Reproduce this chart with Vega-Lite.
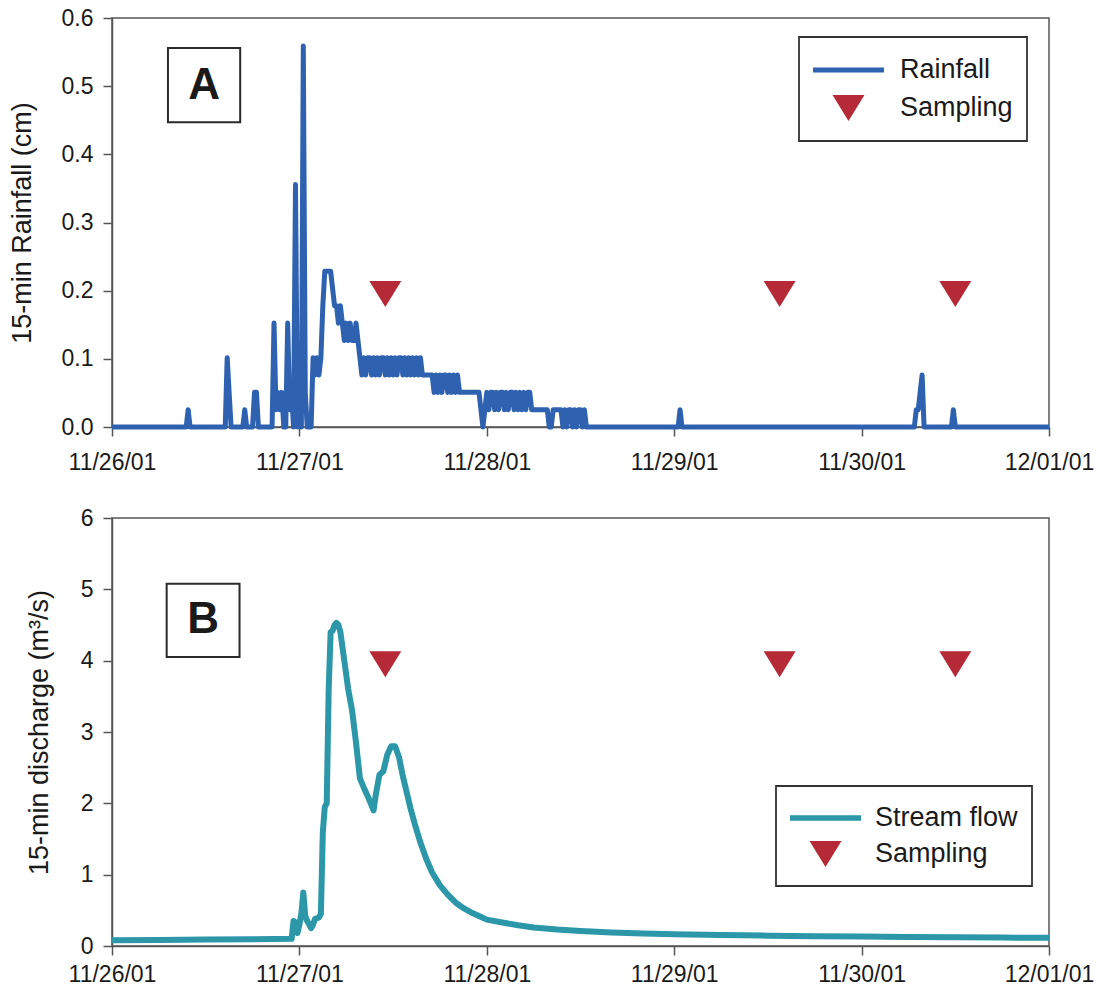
{
  "$schema": "https://vega.github.io/schema/vega-lite/v6.json",
  "padding": {"left": 7, "top": 6, "right": 0, "bottom": 2},
  "background": "white",
  "spacing": 31,
  "config": {
    "font": "Liberation Sans",
    "view": {"stroke": "#555", "strokeWidth": 1.5},
    "axis": {
      "labelFont": "Liberation Sans", "labelFontSize": 23, "labelColor": "#1a1a1a",
      "titleFont": "Liberation Sans", "titleFontSize": 27, "titleFontWeight": "normal", "titleColor": "#1a1a1a",
      "domainColor": "#555", "domainWidth": 1.5, "tickColor": "#555", "tickWidth": 1.5, "tickSize": 9,
      "grid": false, "labelPadding": 10, "labelFlush": false
    }
  },
  "datasets": {
    "rain": [
      {"time": "2001-11-26T00:00", "rain_cm": 0},
      {"time": "2001-11-26T09:30", "rain_cm": 0},
      {"time": "2001-11-26T09:45", "rain_cm": 0.0254},
      {"time": "2001-11-26T10:00", "rain_cm": 0},
      {"time": "2001-11-26T14:30", "rain_cm": 0},
      {"time": "2001-11-26T14:45", "rain_cm": 0.1016},
      {"time": "2001-11-26T15:00", "rain_cm": 0.0508},
      {"time": "2001-11-26T15:15", "rain_cm": 0},
      {"time": "2001-11-26T16:45", "rain_cm": 0},
      {"time": "2001-11-26T17:00", "rain_cm": 0.0254},
      {"time": "2001-11-26T17:15", "rain_cm": 0},
      {"time": "2001-11-26T18:00", "rain_cm": 0},
      {"time": "2001-11-26T18:15", "rain_cm": 0.0508},
      {"time": "2001-11-26T18:30", "rain_cm": 0.0508},
      {"time": "2001-11-26T18:45", "rain_cm": 0},
      {"time": "2001-11-26T20:30", "rain_cm": 0},
      {"time": "2001-11-26T20:45", "rain_cm": 0.1524},
      {"time": "2001-11-26T21:00", "rain_cm": 0.0254},
      {"time": "2001-11-26T21:15", "rain_cm": 0.0508},
      {"time": "2001-11-26T21:30", "rain_cm": 0.0254},
      {"time": "2001-11-26T21:45", "rain_cm": 0.0508},
      {"time": "2001-11-26T22:00", "rain_cm": 0},
      {"time": "2001-11-26T22:15", "rain_cm": 0},
      {"time": "2001-11-26T22:30", "rain_cm": 0.1524},
      {"time": "2001-11-26T22:45", "rain_cm": 0.0254},
      {"time": "2001-11-26T23:00", "rain_cm": 0.0508},
      {"time": "2001-11-26T23:15", "rain_cm": 0},
      {"time": "2001-11-26T23:30", "rain_cm": 0.3556},
      {"time": "2001-11-26T23:45", "rain_cm": 0},
      {"time": "2001-11-27T00:00", "rain_cm": 0.0254},
      {"time": "2001-11-27T00:15", "rain_cm": 0},
      {"time": "2001-11-27T00:30", "rain_cm": 0.5588},
      {"time": "2001-11-27T00:45", "rain_cm": 0.0508},
      {"time": "2001-11-27T01:00", "rain_cm": 0},
      {"time": "2001-11-27T01:15", "rain_cm": 0},
      {"time": "2001-11-27T01:30", "rain_cm": 0},
      {"time": "2001-11-27T01:45", "rain_cm": 0.1016},
      {"time": "2001-11-27T02:00", "rain_cm": 0.0762},
      {"time": "2001-11-27T02:15", "rain_cm": 0.1016},
      {"time": "2001-11-27T02:30", "rain_cm": 0.0762},
      {"time": "2001-11-27T02:45", "rain_cm": 0.1016},
      {"time": "2001-11-27T03:00", "rain_cm": 0.1778},
      {"time": "2001-11-27T03:15", "rain_cm": 0.2286},
      {"time": "2001-11-27T03:30", "rain_cm": 0.2286},
      {"time": "2001-11-27T03:45", "rain_cm": 0.2286},
      {"time": "2001-11-27T04:00", "rain_cm": 0.2286},
      {"time": "2001-11-27T04:15", "rain_cm": 0.2032},
      {"time": "2001-11-27T04:30", "rain_cm": 0.1778},
      {"time": "2001-11-27T04:45", "rain_cm": 0.1778},
      {"time": "2001-11-27T05:00", "rain_cm": 0.1524},
      {"time": "2001-11-27T05:15", "rain_cm": 0.1778},
      {"time": "2001-11-27T05:30", "rain_cm": 0.1524},
      {"time": "2001-11-27T05:45", "rain_cm": 0.127},
      {"time": "2001-11-27T06:00", "rain_cm": 0.1524},
      {"time": "2001-11-27T06:15", "rain_cm": 0.127},
      {"time": "2001-11-27T06:30", "rain_cm": 0.1524},
      {"time": "2001-11-27T06:45", "rain_cm": 0.127},
      {"time": "2001-11-27T07:00", "rain_cm": 0.127},
      {"time": "2001-11-27T07:15", "rain_cm": 0.1524},
      {"time": "2001-11-27T07:30", "rain_cm": 0.127},
      {"time": "2001-11-27T07:45", "rain_cm": 0.1016},
      {"time": "2001-11-27T08:00", "rain_cm": 0.0762},
      {"time": "2001-11-27T08:15", "rain_cm": 0.1016},
      {"time": "2001-11-27T08:30", "rain_cm": 0.0762},
      {"time": "2001-11-27T08:45", "rain_cm": 0.1016},
      {"time": "2001-11-27T09:00", "rain_cm": 0.1016},
      {"time": "2001-11-27T09:15", "rain_cm": 0.0762},
      {"time": "2001-11-27T09:30", "rain_cm": 0.1016},
      {"time": "2001-11-27T09:45", "rain_cm": 0.0762},
      {"time": "2001-11-27T10:00", "rain_cm": 0.1016},
      {"time": "2001-11-27T10:15", "rain_cm": 0.0762},
      {"time": "2001-11-27T10:30", "rain_cm": 0.1016},
      {"time": "2001-11-27T10:45", "rain_cm": 0.1016},
      {"time": "2001-11-27T11:00", "rain_cm": 0.0762},
      {"time": "2001-11-27T11:15", "rain_cm": 0.1016},
      {"time": "2001-11-27T11:30", "rain_cm": 0.0762},
      {"time": "2001-11-27T11:45", "rain_cm": 0.1016},
      {"time": "2001-11-27T12:00", "rain_cm": 0.0762},
      {"time": "2001-11-27T12:15", "rain_cm": 0.1016},
      {"time": "2001-11-27T12:30", "rain_cm": 0.0762},
      {"time": "2001-11-27T12:45", "rain_cm": 0.1016},
      {"time": "2001-11-27T13:00", "rain_cm": 0.1016},
      {"time": "2001-11-27T13:15", "rain_cm": 0.0762},
      {"time": "2001-11-27T13:30", "rain_cm": 0.1016},
      {"time": "2001-11-27T13:45", "rain_cm": 0.0762},
      {"time": "2001-11-27T14:00", "rain_cm": 0.1016},
      {"time": "2001-11-27T14:15", "rain_cm": 0.0762},
      {"time": "2001-11-27T14:30", "rain_cm": 0.1016},
      {"time": "2001-11-27T14:45", "rain_cm": 0.0762},
      {"time": "2001-11-27T15:00", "rain_cm": 0.1016},
      {"time": "2001-11-27T15:15", "rain_cm": 0.0762},
      {"time": "2001-11-27T15:30", "rain_cm": 0.1016},
      {"time": "2001-11-27T15:45", "rain_cm": 0.0762},
      {"time": "2001-11-27T16:00", "rain_cm": 0.0762},
      {"time": "2001-11-27T16:15", "rain_cm": 0.0762},
      {"time": "2001-11-27T16:30", "rain_cm": 0.0762},
      {"time": "2001-11-27T16:45", "rain_cm": 0.0762},
      {"time": "2001-11-27T17:00", "rain_cm": 0.0762},
      {"time": "2001-11-27T17:15", "rain_cm": 0.0508},
      {"time": "2001-11-27T17:30", "rain_cm": 0.0762},
      {"time": "2001-11-27T17:45", "rain_cm": 0.0508},
      {"time": "2001-11-27T18:00", "rain_cm": 0.0762},
      {"time": "2001-11-27T18:15", "rain_cm": 0.0508},
      {"time": "2001-11-27T18:30", "rain_cm": 0.0762},
      {"time": "2001-11-27T18:45", "rain_cm": 0.0762},
      {"time": "2001-11-27T19:00", "rain_cm": 0.0508},
      {"time": "2001-11-27T19:15", "rain_cm": 0.0762},
      {"time": "2001-11-27T19:30", "rain_cm": 0.0508},
      {"time": "2001-11-27T19:45", "rain_cm": 0.0762},
      {"time": "2001-11-27T20:00", "rain_cm": 0.0508},
      {"time": "2001-11-27T20:15", "rain_cm": 0.0762},
      {"time": "2001-11-27T20:30", "rain_cm": 0.0508},
      {"time": "2001-11-27T20:45", "rain_cm": 0.0508},
      {"time": "2001-11-27T23:00", "rain_cm": 0.0508},
      {"time": "2001-11-27T23:15", "rain_cm": 0.0254},
      {"time": "2001-11-27T23:30", "rain_cm": 0},
      {"time": "2001-11-27T23:45", "rain_cm": 0.0254},
      {"time": "2001-11-28T00:00", "rain_cm": 0.0508},
      {"time": "2001-11-28T00:15", "rain_cm": 0.0254},
      {"time": "2001-11-28T00:30", "rain_cm": 0.0508},
      {"time": "2001-11-28T00:45", "rain_cm": 0.0508},
      {"time": "2001-11-28T01:00", "rain_cm": 0.0254},
      {"time": "2001-11-28T01:15", "rain_cm": 0.0508},
      {"time": "2001-11-28T01:30", "rain_cm": 0.0254},
      {"time": "2001-11-28T01:45", "rain_cm": 0.0508},
      {"time": "2001-11-28T02:00", "rain_cm": 0.0508},
      {"time": "2001-11-28T02:15", "rain_cm": 0.0254},
      {"time": "2001-11-28T02:30", "rain_cm": 0.0508},
      {"time": "2001-11-28T02:45", "rain_cm": 0.0254},
      {"time": "2001-11-28T03:00", "rain_cm": 0.0508},
      {"time": "2001-11-28T03:15", "rain_cm": 0.0508},
      {"time": "2001-11-28T03:30", "rain_cm": 0.0254},
      {"time": "2001-11-28T03:45", "rain_cm": 0.0508},
      {"time": "2001-11-28T04:00", "rain_cm": 0.0254},
      {"time": "2001-11-28T04:15", "rain_cm": 0.0508},
      {"time": "2001-11-28T04:30", "rain_cm": 0.0254},
      {"time": "2001-11-28T04:45", "rain_cm": 0.0508},
      {"time": "2001-11-28T05:00", "rain_cm": 0.0254},
      {"time": "2001-11-28T05:15", "rain_cm": 0.0508},
      {"time": "2001-11-28T05:30", "rain_cm": 0.0508},
      {"time": "2001-11-28T05:45", "rain_cm": 0.0254},
      {"time": "2001-11-28T07:45", "rain_cm": 0.0254},
      {"time": "2001-11-28T08:00", "rain_cm": 0},
      {"time": "2001-11-28T08:15", "rain_cm": 0},
      {"time": "2001-11-28T08:30", "rain_cm": 0.0254},
      {"time": "2001-11-28T09:30", "rain_cm": 0.0254},
      {"time": "2001-11-28T09:45", "rain_cm": 0},
      {"time": "2001-11-28T10:00", "rain_cm": 0.0254},
      {"time": "2001-11-28T10:15", "rain_cm": 0},
      {"time": "2001-11-28T10:30", "rain_cm": 0.0254},
      {"time": "2001-11-28T10:45", "rain_cm": 0.0254},
      {"time": "2001-11-28T11:00", "rain_cm": 0},
      {"time": "2001-11-28T11:15", "rain_cm": 0.0254},
      {"time": "2001-11-28T11:30", "rain_cm": 0},
      {"time": "2001-11-28T11:45", "rain_cm": 0.0254},
      {"time": "2001-11-28T12:00", "rain_cm": 0.0254},
      {"time": "2001-11-28T12:15", "rain_cm": 0},
      {"time": "2001-11-28T12:30", "rain_cm": 0.0254},
      {"time": "2001-11-28T12:45", "rain_cm": 0},
      {"time": "2001-11-29T00:30", "rain_cm": 0},
      {"time": "2001-11-29T00:45", "rain_cm": 0.0254},
      {"time": "2001-11-29T01:00", "rain_cm": 0},
      {"time": "2001-11-30T06:45", "rain_cm": 0},
      {"time": "2001-11-30T07:00", "rain_cm": 0.0254},
      {"time": "2001-11-30T07:15", "rain_cm": 0.0254},
      {"time": "2001-11-30T07:30", "rain_cm": 0.0508},
      {"time": "2001-11-30T07:45", "rain_cm": 0.0762},
      {"time": "2001-11-30T08:00", "rain_cm": 0},
      {"time": "2001-11-30T11:30", "rain_cm": 0},
      {"time": "2001-11-30T11:45", "rain_cm": 0.0254},
      {"time": "2001-11-30T12:00", "rain_cm": 0},
      {"time": "2001-12-01T00:00", "rain_cm": 0}
    ],
    "flow": [
      {"time": "2001-11-26T00:00", "flow_m3s": 0.08},
      {"time": "2001-11-26T06:00", "flow_m3s": 0.085},
      {"time": "2001-11-26T12:00", "flow_m3s": 0.09},
      {"time": "2001-11-26T18:00", "flow_m3s": 0.095},
      {"time": "2001-11-26T23:00", "flow_m3s": 0.1},
      {"time": "2001-11-26T23:15", "flow_m3s": 0.35},
      {"time": "2001-11-26T23:30", "flow_m3s": 0.33},
      {"time": "2001-11-26T23:45", "flow_m3s": 0.18},
      {"time": "2001-11-27T00:00", "flow_m3s": 0.3},
      {"time": "2001-11-27T00:15", "flow_m3s": 0.45},
      {"time": "2001-11-27T00:30", "flow_m3s": 0.75},
      {"time": "2001-11-27T00:45", "flow_m3s": 0.42},
      {"time": "2001-11-27T01:00", "flow_m3s": 0.35},
      {"time": "2001-11-27T01:30", "flow_m3s": 0.25},
      {"time": "2001-11-27T01:45", "flow_m3s": 0.3},
      {"time": "2001-11-27T02:00", "flow_m3s": 0.38},
      {"time": "2001-11-27T02:30", "flow_m3s": 0.4},
      {"time": "2001-11-27T02:45", "flow_m3s": 0.45},
      {"time": "2001-11-27T03:00", "flow_m3s": 1.6},
      {"time": "2001-11-27T03:15", "flow_m3s": 1.95},
      {"time": "2001-11-27T03:30", "flow_m3s": 2.0},
      {"time": "2001-11-27T03:45", "flow_m3s": 3.6},
      {"time": "2001-11-27T04:00", "flow_m3s": 4.4},
      {"time": "2001-11-27T04:15", "flow_m3s": 4.42},
      {"time": "2001-11-27T04:30", "flow_m3s": 4.5},
      {"time": "2001-11-27T04:45", "flow_m3s": 4.53},
      {"time": "2001-11-27T05:00", "flow_m3s": 4.5},
      {"time": "2001-11-27T05:15", "flow_m3s": 4.4},
      {"time": "2001-11-27T05:45", "flow_m3s": 4.0},
      {"time": "2001-11-27T06:15", "flow_m3s": 3.6},
      {"time": "2001-11-27T06:45", "flow_m3s": 3.3},
      {"time": "2001-11-27T07:15", "flow_m3s": 2.85},
      {"time": "2001-11-27T07:45", "flow_m3s": 2.35},
      {"time": "2001-11-27T08:15", "flow_m3s": 2.22},
      {"time": "2001-11-27T08:45", "flow_m3s": 2.1},
      {"time": "2001-11-27T09:15", "flow_m3s": 1.97},
      {"time": "2001-11-27T09:30", "flow_m3s": 1.9},
      {"time": "2001-11-27T09:45", "flow_m3s": 2.1},
      {"time": "2001-11-27T10:15", "flow_m3s": 2.4},
      {"time": "2001-11-27T10:45", "flow_m3s": 2.45},
      {"time": "2001-11-27T11:15", "flow_m3s": 2.68},
      {"time": "2001-11-27T11:45", "flow_m3s": 2.8},
      {"time": "2001-11-27T12:15", "flow_m3s": 2.8},
      {"time": "2001-11-27T12:45", "flow_m3s": 2.65},
      {"time": "2001-11-27T13:15", "flow_m3s": 2.38},
      {"time": "2001-11-27T13:45", "flow_m3s": 2.15},
      {"time": "2001-11-27T14:15", "flow_m3s": 1.92},
      {"time": "2001-11-27T14:45", "flow_m3s": 1.72},
      {"time": "2001-11-27T15:30", "flow_m3s": 1.45},
      {"time": "2001-11-27T16:15", "flow_m3s": 1.22},
      {"time": "2001-11-27T17:00", "flow_m3s": 1.03},
      {"time": "2001-11-27T18:00", "flow_m3s": 0.85},
      {"time": "2001-11-27T19:00", "flow_m3s": 0.72},
      {"time": "2001-11-27T20:00", "flow_m3s": 0.61},
      {"time": "2001-11-27T21:00", "flow_m3s": 0.53},
      {"time": "2001-11-27T22:00", "flow_m3s": 0.47},
      {"time": "2001-11-27T23:00", "flow_m3s": 0.42},
      {"time": "2001-11-28T00:00", "flow_m3s": 0.37},
      {"time": "2001-11-28T02:00", "flow_m3s": 0.33},
      {"time": "2001-11-28T04:00", "flow_m3s": 0.29},
      {"time": "2001-11-28T06:00", "flow_m3s": 0.26},
      {"time": "2001-11-28T09:00", "flow_m3s": 0.23},
      {"time": "2001-11-28T12:00", "flow_m3s": 0.21},
      {"time": "2001-11-28T16:00", "flow_m3s": 0.19},
      {"time": "2001-11-28T20:00", "flow_m3s": 0.175},
      {"time": "2001-11-29T00:00", "flow_m3s": 0.165},
      {"time": "2001-11-29T06:00", "flow_m3s": 0.155},
      {"time": "2001-11-29T12:00", "flow_m3s": 0.145},
      {"time": "2001-11-29T18:00", "flow_m3s": 0.138},
      {"time": "2001-11-30T00:00", "flow_m3s": 0.132},
      {"time": "2001-11-30T06:00", "flow_m3s": 0.127},
      {"time": "2001-11-30T12:00", "flow_m3s": 0.122},
      {"time": "2001-11-30T18:00", "flow_m3s": 0.118},
      {"time": "2001-12-01T00:00", "flow_m3s": 0.115}
    ],
    "sampling": [
      {"time": "2001-11-27T11:00", "series": "Sampling"},
      {"time": "2001-11-29T13:30", "series": "Sampling"},
      {"time": "2001-11-30T12:00", "series": "Sampling"}
    ]
  },
  "resolve": {"scale": {"color": "independent", "shape": "independent"}},
  "vconcat": [
    {
      "width": 937,
      "height": 409,
      "layer": [
        {
          "data": {"values": [{"panel": "A"}]},
          "mark": {"type": "rect", "fill": "white", "stroke": "#2a2a2a", "strokeWidth": 2},
          "encoding": {
            "x": {"datum": {"year": 2001, "month": 11, "date": 26, "hours": 7, "minutes": 10}, "type": "temporal"},
            "x2": {"datum": {"year": 2001, "month": 11, "date": 26, "hours": 16, "minutes": 25}},
            "y": {"datum": 0.556, "type": "quantitative"},
            "y2": {"datum": 0.447}
          }
        },
        {
          "data": {"values": [{"panel": "A"}]},
          "mark": {"type": "text", "font": "Liberation Sans", "fontWeight": "bold", "fontSize": 44, "color": "#1a1a1a", "align": "center", "baseline": "middle"},
          "encoding": {
            "x": {"datum": {"year": 2001, "month": 11, "date": 26, "hours": 11, "minutes": 48}, "type": "temporal"},
            "y": {"datum": 0.5, "type": "quantitative"},
            "text": {"field": "panel"}
          }
        },
        {
          "data": {"name": "rain"},
          "mark": {"type": "line", "color": "#2e62b0", "strokeWidth": 5, "strokeJoin": "round"},
          "encoding": {
            "x": {
              "field": "time", "type": "temporal",
              "scale": {"domain": [{"year": 2001, "month": 11, "date": 26}, {"year": 2001, "month": 12, "date": 1}]},
              "axis": {
                "title": null, "format": "%m/%d/%y", "labelPadding": 15,
                "values": [
                  {"year": 2001, "month": 11, "date": 26}, {"year": 2001, "month": 11, "date": 27},
                  {"year": 2001, "month": 11, "date": 28}, {"year": 2001, "month": 11, "date": 29},
                  {"year": 2001, "month": 11, "date": 30}, {"year": 2001, "month": 12, "date": 1}
                ]
              }
            },
            "y": {
              "field": "rain_cm", "type": "quantitative",
              "scale": {"domain": [0, 0.6], "nice": false},
              "axis": {"title": "15-min Rainfall (cm)", "format": ".1f", "values": [0, 0.1, 0.2, 0.3, 0.4, 0.5, 0.6], "titlePadding": 25}
            }
          }
        },
        {
          "data": {"name": "sampling"},
          "mark": {"type": "point", "filled": true, "size": 5041, "opacity": 1, "strokeWidth": 0},
          "encoding": {
            "x": {"field": "time", "type": "temporal"},
            "y": {"datum": 0.195, "type": "quantitative"},
            "color": {
              "field": "series", "type": "nominal",
              "scale": {"domain": ["Rainfall", "Sampling"], "range": ["#2e62b0", "#b52a36"]},
              "legend": {
                "title": null, "orient": "none", "legendX": 687, "legendY": 19, "direction": "vertical",
                "padding": 14, "strokeColor": "#333", "fillColor": "white",
                "labelFont": "Liberation Sans", "labelFontSize": 27, "labelColor": "#1a1a1a",
                "symbolSize": 5041, "clipHeight": 38, "rowPadding": 0, "labelOffset": 16, "symbolOffset": 0,
                "symbolStrokeWidth": 0, "symbolOpacity": 1,
                "encode": {"legend": {"update": {"strokeWidth": {"value": 1.8}}}}
              }
            },
            "shape": {
              "field": "series", "type": "nominal",
              "scale": {"domain": ["Rainfall", "Sampling"], "range": ["M-1,-0.07L1,-0.07L1,0.07L-1,0.07Z", "M-0.45,-0.366L0.45,-0.366L0,0.366Z"]},
              "legend": {
                "title": null, "orient": "none", "legendX": 687, "legendY": 19, "direction": "vertical",
                "padding": 14, "strokeColor": "#333", "fillColor": "white",
                "labelFont": "Liberation Sans", "labelFontSize": 27, "labelColor": "#1a1a1a",
                "symbolSize": 5041, "clipHeight": 38, "rowPadding": 0, "labelOffset": 16, "symbolOffset": 0,
                "symbolStrokeWidth": 0, "symbolOpacity": 1,
                "encode": {"legend": {"update": {"strokeWidth": {"value": 1.8}}}}
              }
            }
          }
        }
      ]
    },
    {
      "width": 937,
      "height": 428,
      "layer": [
        {
          "data": {"values": [{"panel": "B"}]},
          "mark": {"type": "rect", "fill": "white", "stroke": "#2a2a2a", "strokeWidth": 2},
          "encoding": {
            "x": {"datum": {"year": 2001, "month": 11, "date": 26, "hours": 7, "minutes": 0}, "type": "temporal"},
            "x2": {"datum": {"year": 2001, "month": 11, "date": 26, "hours": 16, "minutes": 20}},
            "y": {"datum": 5.08, "type": "quantitative"},
            "y2": {"datum": 4.05}
          }
        },
        {
          "data": {"values": [{"panel": "B"}]},
          "mark": {"type": "text", "font": "Liberation Sans", "fontWeight": "bold", "fontSize": 44, "color": "#1a1a1a", "align": "center", "baseline": "middle"},
          "encoding": {
            "x": {"datum": {"year": 2001, "month": 11, "date": 26, "hours": 11, "minutes": 40}, "type": "temporal"},
            "y": {"datum": 4.57, "type": "quantitative"},
            "text": {"field": "panel"}
          }
        },
        {
          "data": {"name": "flow"},
          "mark": {"type": "line", "color": "#2b97a9", "strokeWidth": 6, "strokeJoin": "round"},
          "encoding": {
            "x": {
              "field": "time", "type": "temporal",
              "scale": {"domain": [{"year": 2001, "month": 11, "date": 26}, {"year": 2001, "month": 12, "date": 1}]},
              "axis": {
                "title": null, "format": "%m/%d/%y", "labelPadding": 8,
                "values": [
                  {"year": 2001, "month": 11, "date": 26}, {"year": 2001, "month": 11, "date": 27},
                  {"year": 2001, "month": 11, "date": 28}, {"year": 2001, "month": 11, "date": 29},
                  {"year": 2001, "month": 11, "date": 30}, {"year": 2001, "month": 12, "date": 1}
                ]
              }
            },
            "y": {
              "field": "flow_m3s", "type": "quantitative",
              "scale": {"domain": [0, 6], "nice": false},
              "axis": {"title": "15-min discharge (m³/s)", "format": "d", "values": [0, 1, 2, 3, 4, 5, 6], "titlePadding": 27}
            }
          }
        },
        {
          "data": {"name": "sampling"},
          "mark": {"type": "point", "filled": true, "size": 5041, "opacity": 1, "strokeWidth": 0},
          "encoding": {
            "x": {"field": "time", "type": "temporal"},
            "y": {"datum": 3.95, "type": "quantitative"},
            "color": {
              "field": "series", "type": "nominal",
              "scale": {"domain": ["Stream flow", "Sampling"], "range": ["#2b97a9", "#b52a36"]},
              "legend": {
                "title": null, "orient": "none", "legendX": 664, "legendY": 268, "direction": "vertical",
                "padding": 14, "strokeColor": "#333", "fillColor": "white",
                "labelFont": "Liberation Sans", "labelFontSize": 27, "labelColor": "#1a1a1a",
                "symbolSize": 5041, "clipHeight": 36, "rowPadding": 0, "labelOffset": 14, "symbolOffset": 0,
                "symbolStrokeWidth": 0, "symbolOpacity": 1,
                "encode": {"legend": {"update": {"strokeWidth": {"value": 1.8}}}}
              }
            },
            "shape": {
              "field": "series", "type": "nominal",
              "scale": {"domain": ["Stream flow", "Sampling"], "range": ["M-1,-0.08L1,-0.08L1,0.08L-1,0.08Z", "M-0.45,-0.366L0.45,-0.366L0,0.366Z"]},
              "legend": {
                "title": null, "orient": "none", "legendX": 664, "legendY": 268, "direction": "vertical",
                "padding": 14, "strokeColor": "#333", "fillColor": "white",
                "labelFont": "Liberation Sans", "labelFontSize": 27, "labelColor": "#1a1a1a",
                "symbolSize": 5041, "clipHeight": 36, "rowPadding": 0, "labelOffset": 14, "symbolOffset": 0,
                "symbolStrokeWidth": 0, "symbolOpacity": 1,
                "encode": {"legend": {"update": {"strokeWidth": {"value": 1.8}}}}
              }
            }
          }
        }
      ]
    }
  ]
}
